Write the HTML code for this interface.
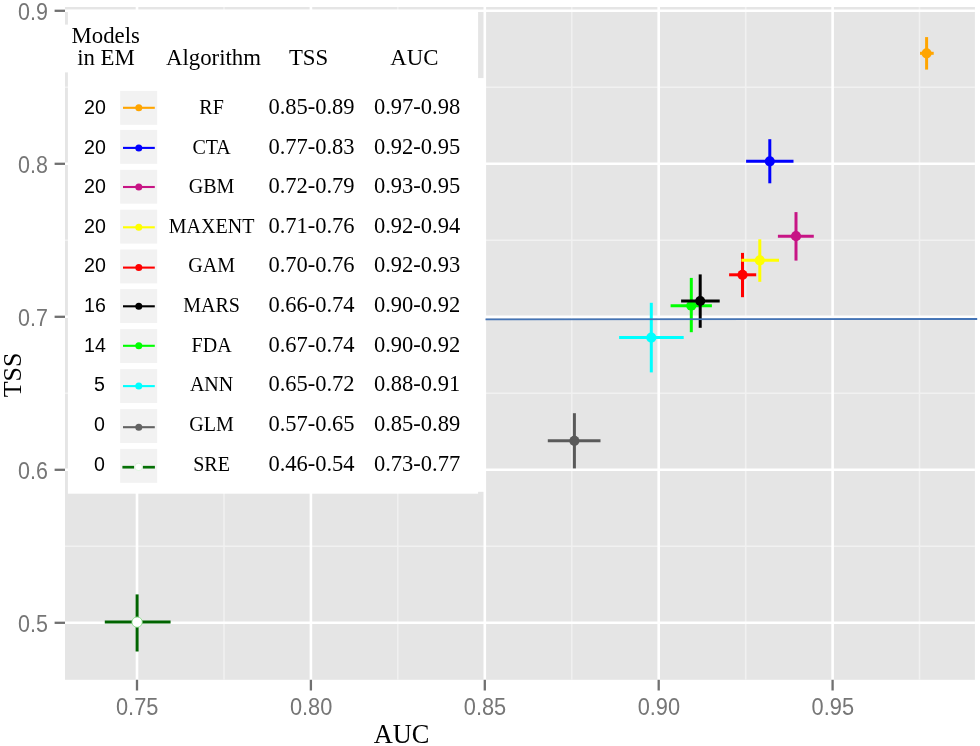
<!DOCTYPE html>
<html><head><meta charset="utf-8"><title>TSS vs AUC</title>
<style>html,body{margin:0;padding:0;background:#fff;}svg{display:block;will-change:transform;}.ser{font-family:"Liberation Serif","Times New Roman",serif;fill:#000;}.san{font-family:"Liberation Sans",Arial,sans-serif;}</style></head><body>
<svg width="980" height="746" viewBox="0 0 980 746">
<rect x="0" y="0" width="980" height="746" fill="#ffffff"/>
<rect x="65.0" y="7.0" width="909.9" height="672.8" fill="#e5e5e5"/>
<g stroke="#f1f1f1" stroke-width="1.5">
<line x1="224.0" y1="7.0" x2="224.0" y2="679.8"/>
<line x1="397.8" y1="7.0" x2="397.8" y2="679.8"/>
<line x1="571.8" y1="7.0" x2="571.8" y2="679.8"/>
<line x1="745.7" y1="7.0" x2="745.7" y2="679.8"/>
<line x1="919.5" y1="7.0" x2="919.5" y2="679.8"/>
<line x1="65.0" y1="87.3" x2="974.9" y2="87.3"/>
<line x1="65.0" y1="240.3" x2="974.9" y2="240.3"/>
<line x1="65.0" y1="393.3" x2="974.9" y2="393.3"/>
<line x1="65.0" y1="546.3" x2="974.9" y2="546.3"/>
</g>
<g stroke="#ffffff" stroke-width="2.6">
<line x1="137.0" y1="7.0" x2="137.0" y2="679.8"/>
<line x1="310.9" y1="7.0" x2="310.9" y2="679.8"/>
<line x1="484.8" y1="7.0" x2="484.8" y2="679.8"/>
<line x1="658.7" y1="7.0" x2="658.7" y2="679.8"/>
<line x1="832.6" y1="7.0" x2="832.6" y2="679.8"/>
<line x1="65.0" y1="10.8" x2="974.9" y2="10.8"/>
<line x1="65.0" y1="163.8" x2="974.9" y2="163.8"/>
<line x1="65.0" y1="316.8" x2="974.9" y2="316.8"/>
<line x1="65.0" y1="469.8" x2="974.9" y2="469.8"/>
<line x1="65.0" y1="622.8" x2="974.9" y2="622.8"/>
</g>
<g stroke="#707070" stroke-width="2.3">
<line x1="137.0" y1="679.8" x2="137.0" y2="690.5"/>
<line x1="310.9" y1="679.8" x2="310.9" y2="690.5"/>
<line x1="484.8" y1="679.8" x2="484.8" y2="690.5"/>
<line x1="658.7" y1="679.8" x2="658.7" y2="690.5"/>
<line x1="832.6" y1="679.8" x2="832.6" y2="690.5"/>
<line x1="54.6" y1="10.8" x2="65.0" y2="10.8"/>
<line x1="54.6" y1="163.8" x2="65.0" y2="163.8"/>
<line x1="54.6" y1="316.8" x2="65.0" y2="316.8"/>
<line x1="54.6" y1="469.8" x2="65.0" y2="469.8"/>
<line x1="54.6" y1="622.8" x2="65.0" y2="622.8"/>
</g>
<g class="san" fill="#767676">
<text font-size="21.8" transform="translate(137.2,715.0) scale(1,1.07)" text-anchor="middle">0.75</text>
<text font-size="21.8" transform="translate(311.1,715.0) scale(1,1.07)" text-anchor="middle">0.80</text>
<text font-size="21.8" transform="translate(485.0,715.0) scale(1,1.07)" text-anchor="middle">0.85</text>
<text font-size="21.8" transform="translate(658.9,715.0) scale(1,1.07)" text-anchor="middle">0.90</text>
<text font-size="21.8" transform="translate(832.8,715.0) scale(1,1.07)" text-anchor="middle">0.95</text>
<text font-size="21.5" transform="translate(47.9,19.9) scale(1,1.07)" text-anchor="end">0.9</text>
<text font-size="21.5" transform="translate(47.9,172.9) scale(1,1.07)" text-anchor="end">0.8</text>
<text font-size="21.5" transform="translate(47.9,325.9) scale(1,1.07)" text-anchor="end">0.7</text>
<text font-size="21.5" transform="translate(47.9,478.9) scale(1,1.07)" text-anchor="end">0.6</text>
<text font-size="21.5" transform="translate(47.9,631.9) scale(1,1.07)" text-anchor="end">0.5</text>
</g>
<text class="ser" font-size="26.4" x="401.6" y="743.1" text-anchor="middle">AUC</text>
<text class="ser" font-size="25.9" transform="translate(20.6,374.95) rotate(-90)" text-anchor="middle">TSS</text>
<g stroke="#ffa500" stroke-width="3" fill="#ffa500">
<line x1="920.0" y1="53.3" x2="933.7" y2="53.3"/>
<line x1="926.6" y1="37.1" x2="926.6" y2="69.6"/>
<circle cx="926.6" cy="53.3" r="5.1" stroke="none"/>
</g>
<g stroke="#0000ff" stroke-width="3" fill="#0000ff">
<line x1="746.1" y1="161.3" x2="793.5" y2="161.3"/>
<line x1="769.8" y1="139.2" x2="769.8" y2="183.3"/>
<circle cx="769.8" cy="161.3" r="5.1" stroke="none"/>
</g>
<g stroke="#c71585" stroke-width="3" fill="#c71585">
<line x1="777.9" y1="236.2" x2="813.8" y2="236.2"/>
<line x1="796.0" y1="212.1" x2="796.0" y2="260.6"/>
<circle cx="796.0" cy="236.2" r="5.1" stroke="none"/>
</g>
<g stroke="#ff0000" stroke-width="3" fill="#ff0000">
<line x1="729.1" y1="274.8" x2="756.2" y2="274.8"/>
<line x1="742.5" y1="252.9" x2="742.5" y2="297.2"/>
<circle cx="742.5" cy="274.8" r="5.1" stroke="none"/>
</g>
<g stroke="#ffff00" stroke-width="3" fill="#ffff00">
<line x1="741.4" y1="260.3" x2="779.0" y2="260.3"/>
<line x1="759.8" y1="239.3" x2="759.8" y2="281.8"/>
<circle cx="759.8" cy="260.3" r="5.1" stroke="none"/>
</g>
<g stroke="#00ff00" stroke-width="3" fill="#00ff00">
<line x1="670.6" y1="305.7" x2="711.9" y2="305.7"/>
<line x1="691.3" y1="277.9" x2="691.3" y2="332.2"/>
<circle cx="691.3" cy="305.7" r="5.1" stroke="none"/>
</g>
<g stroke="#000000" stroke-width="3" fill="#000000">
<line x1="681.1" y1="301.0" x2="719.7" y2="301.0"/>
<line x1="700.2" y1="274.4" x2="700.2" y2="327.8"/>
<circle cx="700.2" cy="301.0" r="5.1" stroke="none"/>
</g>
<g stroke="#00ffff" stroke-width="3" fill="#00ffff">
<line x1="619.1" y1="337.6" x2="683.7" y2="337.6"/>
<line x1="651.3" y1="302.8" x2="651.3" y2="372.4"/>
<circle cx="651.3" cy="337.6" r="5.1" stroke="none"/>
</g>
<g stroke="#5a5a5a" stroke-width="3" fill="#5a5a5a">
<line x1="547.8" y1="440.8" x2="600.5" y2="440.8"/>
<line x1="574.4" y1="413.2" x2="574.4" y2="468.4"/>
<circle cx="574.4" cy="440.8" r="5.1" stroke="none"/>
</g>
<g stroke="#006400" stroke-width="3" fill="#006400">
<line x1="104.8" y1="622.1" x2="170.6" y2="622.1"/>
<line x1="137.1" y1="594.4" x2="137.1" y2="651.5"/>
<circle cx="137.1" cy="622.1" r="5.2" fill="#ffffff" stroke="#7fdc7f" stroke-width="0.8"/>
</g>
<rect x="67.9" y="9.8" width="410.2" height="483.9" fill="#ffffff"/>
<rect x="470" y="78.1" width="16.0" height="413.7" fill="#ffffff"/>
<rect x="60" y="24.6" width="20" height="47.8" fill="#ffffff"/>
<g class="ser" font-size="22.8" text-anchor="middle">
<text x="105.7" y="42.6">Models</text>
<text x="106.0" y="65.0">in EM</text>
<text x="213.5" y="65.1">Algorithm</text>
<text x="308.6" y="65.2">TSS</text>
<text x="414.3" y="65.2">AUC</text>
</g>
<rect x="120.2" y="90.9" width="37.0" height="33.9" fill="#f2f2f2"/>
<line x1="123.0" y1="107.8" x2="154.8" y2="107.8" stroke="#ffa500" stroke-width="2.1"/>
<circle cx="138.8" cy="107.8" r="3.5" fill="#ffa500"/>
<text class="san" font-size="19.6" fill="#000" x="105.9" y="113.8" text-anchor="end">20</text>
<text class="ser" font-size="20" x="211.6" y="113.7" text-anchor="middle">RF</text>
<text class="ser" font-size="22.5" x="311.5" y="113.7" text-anchor="middle">0.85-0.89</text>
<text class="ser" font-size="22.5" x="417.1" y="113.7" text-anchor="middle">0.97-0.98</text>
<rect x="120.2" y="129.9" width="37.0" height="33.9" fill="#f2f2f2"/>
<line x1="123.0" y1="147.9" x2="154.8" y2="147.9" stroke="#0000ff" stroke-width="2.1"/>
<circle cx="138.8" cy="147.9" r="3.5" fill="#0000ff"/>
<text class="san" font-size="19.6" fill="#000" x="105.9" y="153.9" text-anchor="end">20</text>
<text class="ser" font-size="20" x="211.6" y="153.8" text-anchor="middle">CTA</text>
<text class="ser" font-size="22.5" x="311.5" y="153.8" text-anchor="middle">0.77-0.83</text>
<text class="ser" font-size="22.5" x="417.1" y="153.8" text-anchor="middle">0.92-0.95</text>
<rect x="120.2" y="169.8" width="37.0" height="33.9" fill="#f2f2f2"/>
<line x1="123.0" y1="187.0" x2="154.8" y2="187.0" stroke="#c71585" stroke-width="2.1"/>
<circle cx="138.8" cy="187.0" r="3.5" fill="#c71585"/>
<text class="san" font-size="19.6" fill="#000" x="105.9" y="192.9" text-anchor="end">20</text>
<text class="ser" font-size="20" x="211.6" y="192.8" text-anchor="middle">GBM</text>
<text class="ser" font-size="22.5" x="311.5" y="192.8" text-anchor="middle">0.72-0.79</text>
<text class="ser" font-size="22.5" x="417.1" y="192.8" text-anchor="middle">0.93-0.95</text>
<rect x="120.2" y="209.7" width="37.0" height="33.9" fill="#f2f2f2"/>
<line x1="123.0" y1="227.3" x2="154.8" y2="227.3" stroke="#ffff00" stroke-width="2.1"/>
<circle cx="138.8" cy="227.3" r="3.5" fill="#ffff00"/>
<text class="san" font-size="19.6" fill="#000" x="105.9" y="232.8" text-anchor="end">20</text>
<text class="ser" font-size="20" x="211.6" y="232.7" text-anchor="middle">MAXENT</text>
<text class="ser" font-size="22.5" x="311.5" y="232.7" text-anchor="middle">0.71-0.76</text>
<text class="ser" font-size="22.5" x="417.1" y="232.7" text-anchor="middle">0.92-0.94</text>
<rect x="120.2" y="249.5" width="37.0" height="33.9" fill="#f2f2f2"/>
<line x1="123.0" y1="267.6" x2="154.8" y2="267.6" stroke="#ff0000" stroke-width="2.1"/>
<circle cx="138.8" cy="267.6" r="3.5" fill="#ff0000"/>
<text class="san" font-size="19.6" fill="#000" x="105.9" y="272.0" text-anchor="end">20</text>
<text class="ser" font-size="20" x="211.6" y="271.9" text-anchor="middle">GAM</text>
<text class="ser" font-size="22.5" x="311.5" y="271.9" text-anchor="middle">0.70-0.76</text>
<text class="ser" font-size="22.5" x="417.1" y="271.9" text-anchor="middle">0.92-0.93</text>
<rect x="120.2" y="289.1" width="37.0" height="33.9" fill="#f2f2f2"/>
<line x1="123.0" y1="306.3" x2="154.8" y2="306.3" stroke="#000000" stroke-width="2.1"/>
<circle cx="138.8" cy="306.3" r="3.5" fill="#000000"/>
<text class="san" font-size="19.6" fill="#000" x="105.9" y="311.8" text-anchor="end">16</text>
<text class="ser" font-size="20" x="211.6" y="311.7" text-anchor="middle">MARS</text>
<text class="ser" font-size="22.5" x="311.5" y="311.7" text-anchor="middle">0.66-0.74</text>
<text class="ser" font-size="22.5" x="417.1" y="311.7" text-anchor="middle">0.90-0.92</text>
<rect x="120.2" y="329.1" width="37.0" height="33.9" fill="#f2f2f2"/>
<line x1="123.0" y1="345.8" x2="154.8" y2="345.8" stroke="#00ff00" stroke-width="2.1"/>
<circle cx="138.8" cy="345.8" r="3.5" fill="#00ff00"/>
<text class="san" font-size="19.6" fill="#000" x="105.9" y="351.8" text-anchor="end">14</text>
<text class="ser" font-size="20" x="211.6" y="351.7" text-anchor="middle">FDA</text>
<text class="ser" font-size="22.5" x="311.5" y="351.7" text-anchor="middle">0.67-0.74</text>
<text class="ser" font-size="22.5" x="417.1" y="351.7" text-anchor="middle">0.90-0.92</text>
<rect x="120.2" y="369.1" width="37.0" height="33.9" fill="#f2f2f2"/>
<line x1="123.0" y1="386.1" x2="154.8" y2="386.1" stroke="#00ffff" stroke-width="2.1"/>
<circle cx="138.8" cy="386.1" r="3.5" fill="#00ffff"/>
<text class="san" font-size="19.6" fill="#000" x="104.9" y="391.4" text-anchor="end">5</text>
<text class="ser" font-size="20" x="211.6" y="391.3" text-anchor="middle">ANN</text>
<text class="ser" font-size="22.5" x="311.5" y="391.3" text-anchor="middle">0.65-0.72</text>
<text class="ser" font-size="22.5" x="417.1" y="391.3" text-anchor="middle">0.88-0.91</text>
<rect x="120.2" y="409.1" width="37.0" height="33.9" fill="#f2f2f2"/>
<line x1="123.0" y1="427.2" x2="154.8" y2="427.2" stroke="#636363" stroke-width="2.1"/>
<circle cx="138.8" cy="427.2" r="3.5" fill="#636363"/>
<text class="san" font-size="19.6" fill="#000" x="104.9" y="431.1" text-anchor="end">0</text>
<text class="ser" font-size="20" x="211.6" y="431.0" text-anchor="middle">GLM</text>
<text class="ser" font-size="22.5" x="311.5" y="431.0" text-anchor="middle">0.57-0.65</text>
<text class="ser" font-size="22.5" x="417.1" y="431.0" text-anchor="middle">0.85-0.89</text>
<rect x="120.2" y="448.9" width="37.0" height="33.9" fill="#f2f2f2"/>
<line x1="122.4" y1="467.2" x2="134.1" y2="467.2" stroke="#057005" stroke-width="2.7"/>
<line x1="142.8" y1="467.2" x2="154.9" y2="467.2" stroke="#057005" stroke-width="2.7"/>
<circle cx="138.6" cy="466.9" r="3.7" fill="#ffffff" stroke="#c4efc4" stroke-width="0.5"/>
<text class="san" font-size="19.6" fill="#000" x="104.9" y="471.3" text-anchor="end">0</text>
<text class="ser" font-size="20" x="211.6" y="471.2" text-anchor="middle">SRE</text>
<text class="ser" font-size="22.5" x="311.5" y="471.2" text-anchor="middle">0.46-0.54</text>
<text class="ser" font-size="22.5" x="417.1" y="471.2" text-anchor="middle">0.73-0.77</text>
<line x1="485.5" y1="319.35" x2="977.2" y2="318.95" stroke="#4474b6" stroke-width="1.9"/>
</svg></body></html>
